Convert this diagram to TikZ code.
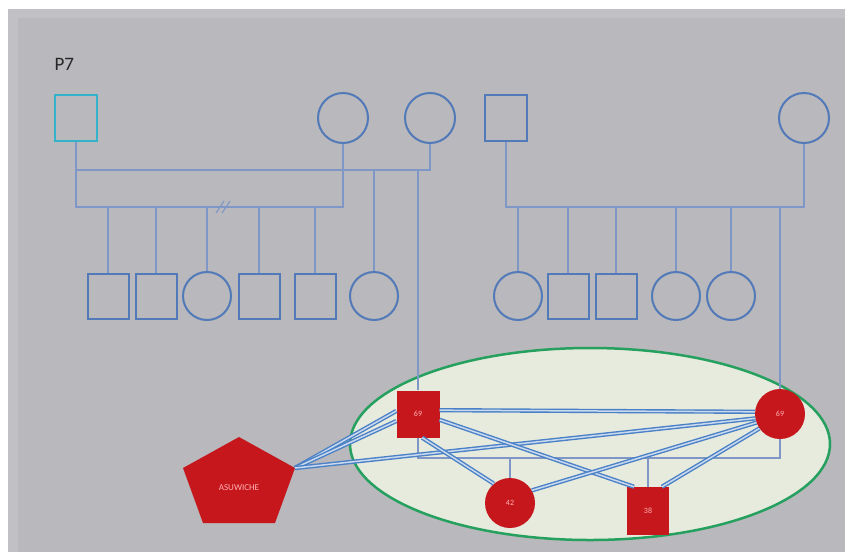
\documentclass[tikz,border=0pt]{standalone}
\usepackage{fontspec}
\setmainfont{Carlito}
\definecolor{bggray}{HTML}{B8B8BD}
\definecolor{bgrim}{HTML}{C1C1C5}
\definecolor{pblue}{HTML}{5279B8}
\definecolor{pcyan}{HTML}{35B2CB}
\definecolor{lnblue}{HTML}{7E97C6}
\definecolor{lkblue}{HTML}{4A80C6}
\definecolor{pred}{HTML}{C6171D}
\definecolor{egreen}{HTML}{26A05E}
\definecolor{efill}{HTML}{E7EBDE}
\tikzset{
  male/.style={draw=pblue,line width=2pt,minimum width=41pt,minimum height=45pt,inner sep=0pt},
  female/.style={circle,draw=pblue,line width=2pt,minimum size=48pt,inner sep=0pt},
  ln/.style={draw=lnblue,line width=1.1pt},
  lnk/.style={draw=lkblue,line width=1.4pt,double=lkblue!30!white,double distance=1.5pt},
  redsq/.style={fill=pred,minimum width=43pt,minimum height=47pt,inner sep=0pt,text=red!30!white,font=\fontsize{8}{9}\selectfont},
  redci/.style={circle,fill=pred,minimum size=50pt,inner sep=0pt,text=red!30!white,font=\fontsize{8}{9}\selectfont}
}

\begin{document}
\begin{tikzpicture}[x=1pt,y=-1pt]
\useasboundingbox (0,0) rectangle (845,552);
\fill[white] (0,0) rectangle (845,552);
\fill[bgrim] (8,9) rectangle (845,552);
\fill[bggray] (18,18) rectangle (845,552);

% cluster
\draw[egreen,line width=2.5pt,fill=efill] (590,444) ellipse [x radius=240,y radius=96];

% first generation
\node[font=\fontsize{19}{21}\selectfont,anchor=base west,text=black!85] (p7) at (51,70) {P7};
\node[male,draw=pcyan,minimum width=42pt,minimum height=46pt] (p7m) at (76,118) {};
\node[female,minimum size=50pt] (f1) at (343,118) {};
\node[female,minimum size=50pt] (f2) at (430,118) {};
\node[male,minimum width=42pt,minimum height=46pt] (m2) at (506,118) {};
\node[female,minimum size=50pt] (f3) at (804,118) {};

% siblings
\node[male] (c1) at (108,296) {};
\node[male] (c2) at (156,296) {};
\node[female] (c3) at (207,296) {};
\node[male] (c4) at (259,296) {};
\node[male] (c5) at (315,296) {};
\node[female] (c6) at (374,296) {};
\node[female] (d1) at (518,296) {};
\node[male] (d2) at (568,296) {};
\node[male] (d3) at (616,296) {};
\node[female] (d4) at (676,296) {};
\node[female] (d5) at (731,296) {};

% affected
\node[redsq] (a69) at (418,414) {69};
\node[redci] (b69) at (780,414) {69};
\node[redci] (k42) at (510,503) {42};
\node[redsq,minimum width=42pt,minimum height=48pt] (k38) at (648,511) {38};
\fill[pred] (239,437) -- (295,468) coordinate (asR) -- (275,523) -- (203,523) -- (183,468) -- cycle;
\node[text=red!30!white,font=\fontsize{9}{10}\selectfont] (ase) at (239,488) {ASUWICHE};

% pedigree lines
\coordinate (sibL) at (76,207);
\coordinate (mar2) at (76,170);
\coordinate (sibR) at (506,207);
\coordinate (mar3) at (418,458);
\draw[ln] (p7m) -- (sibL) -| (f1);
\draw[ln] (mar2) -| (f2);
\draw[ln] (c1) -- (c1 |- sibL);
\draw[ln] (c2) -- (c2 |- sibL);
\draw[ln] (c3) -- (c3 |- sibL);
\draw[ln] (c4) -- (c4 |- sibL);
\draw[ln] (c5) -- (c5 |- sibL);
\draw[ln] (216,213) -- (224,201) (222,213) -- (230,201);
\draw[ln] (c6) -- (c6 |- mar2);
\draw[ln] (a69) -- (a69 |- mar2);
\draw[ln] (m2) -- (sibR) -| (f3);
\draw[ln] (d1) -- (d1 |- sibR);
\draw[ln] (d2) -- (d2 |- sibR);
\draw[ln] (d3) -- (d3 |- sibR);
\draw[ln] (d4) -- (d4 |- sibR);
\draw[ln] (d5) -- (d5 |- sibR);
\draw[ln] (b69) -- (b69 |- sibR);
\draw[ln] (a69) -- (mar3) -| (b69);
\draw[ln] (k42) -- (k42 |- mar3);
\draw[ln] (k38) -- (k38 |- mar3);

% links
\draw[lnk] (asR) -- (a69.172);
\draw[lnk] (asR) -- (a69.198);
\draw[lnk] (asR) -- (b69.190);
\draw[lnk] (a69.10) -- (b69.175);
\draw[lnk] (a69.-15) -- (k38.120);
\draw[lnk] (a69.-80) -- (k42.130);
\draw[lnk] (b69.200) -- (k42.30);
\draw[lnk] (b69.215) -- (k38.60);
\end{tikzpicture}
\end{document}
